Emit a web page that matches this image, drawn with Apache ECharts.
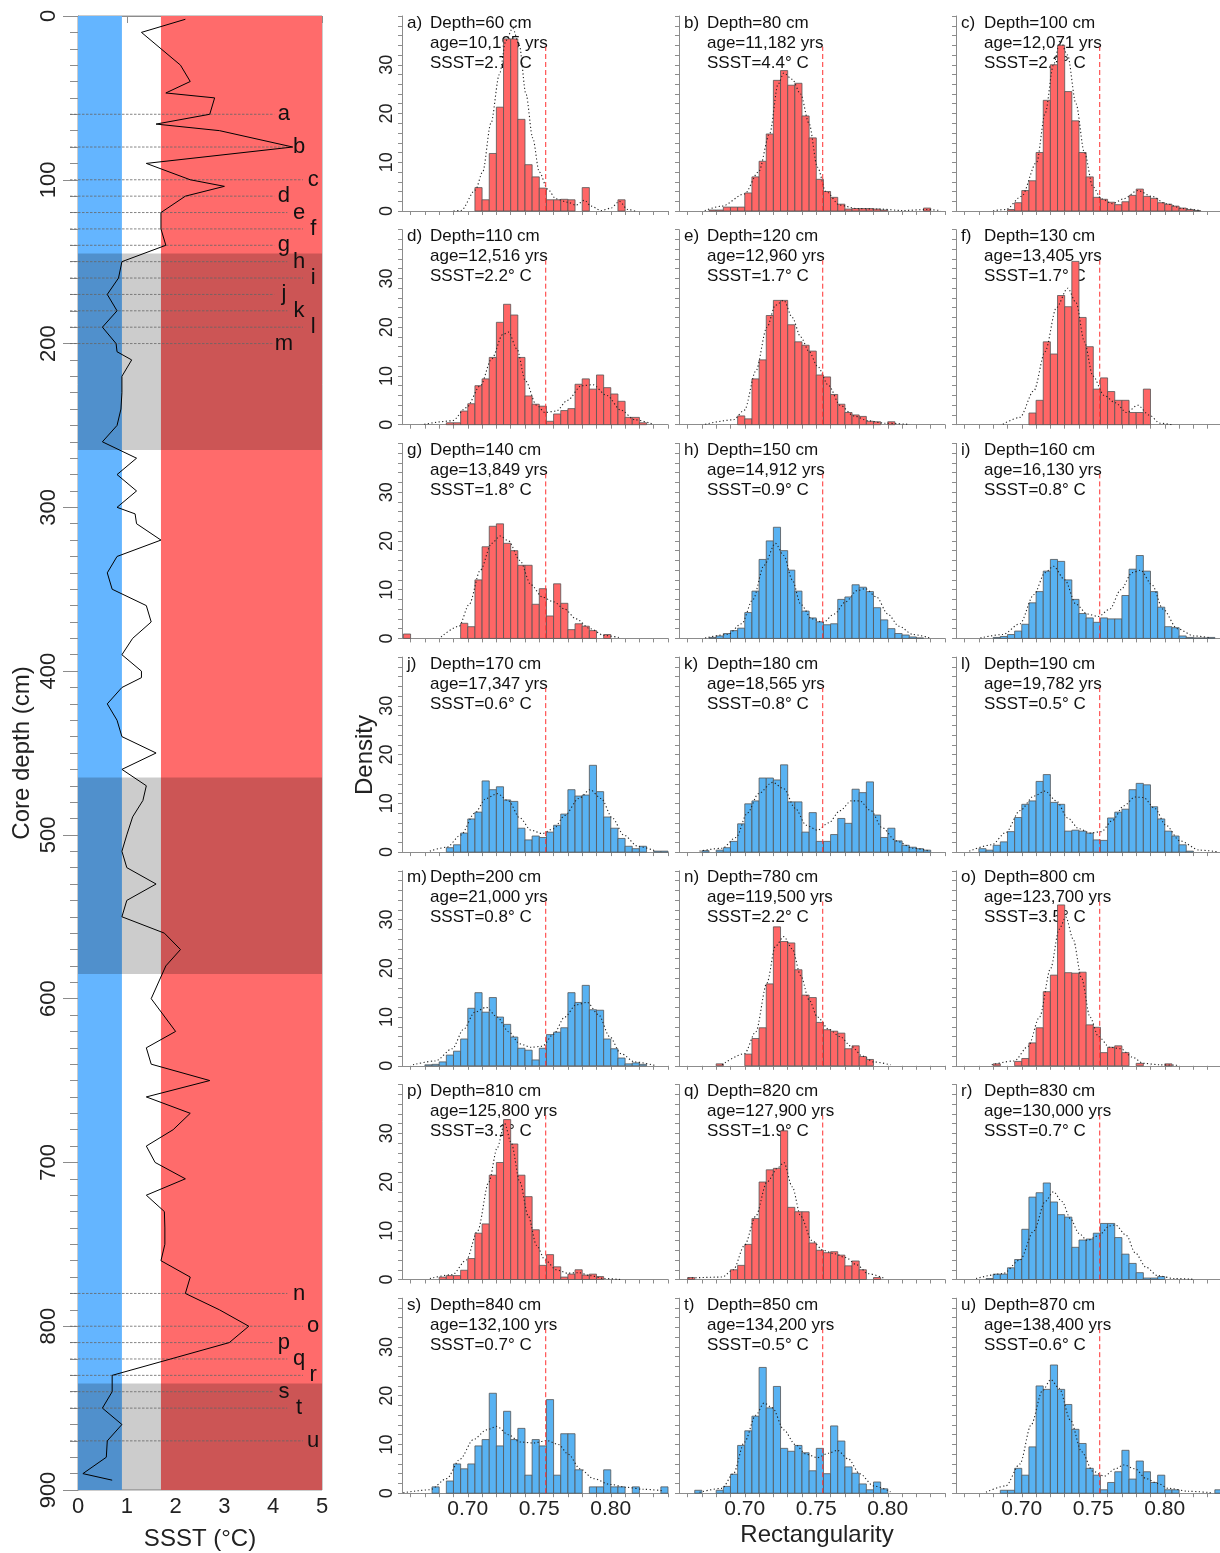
<!DOCTYPE html>
<html><head><meta charset="utf-8">
<script src="https://cdn.jsdelivr.net/npm/echarts@6/dist/echarts.min.js"></script>
<style>html,body{margin:0;padding:0;background:#fff}#c{width:1220px;height:1553px}</style>
</head><body><div id="c"></div>
<script>
// ================= DATA =================
// Left panel: SSST down-core
const coreDepth = [2,10,20,30,40,47,50,60,66,70,80,90,100,104,110,120,130,140,150,160,170,180,190,200,205,210,220,230,240,250,260,270,280,290,300,304,310,320,330,340,350,360,370,380,390,400,404,410,420,430,440,450,460,470,479,489,500,510,520,530,540,550,560,570,580,600,620,630,640,650,660,670,680,690,700,710,720,730,740,750,760,770,780,790,800,810,820,830,840,850,860,870,880,890,894];
const coreSSST  = [2.2,1.3,1.7,2.1,2.3,1.8,2.8,2.7,1.6,2.9,4.4,1.4,2.3,3.0,2.2,1.7,1.7,1.8,0.9,0.83,0.6,0.8,0.5,0.78,0.8,1.1,0.9,0.9,0.88,0.8,0.5,1.2,0.8,1.2,0.8,1.17,1.2,1.7,0.8,0.6,0.7,1.4,1.5,1.12,0.9,1.3,1.3,0.9,0.6,0.8,0.9,1.6,0.9,1.4,1.33,1.12,1.0,0.9,1.0,1.6,1.0,0.9,1.77,2.1,1.8,1.5,2.0,1.4,1.5,2.7,1.4,2.3,1.95,1.4,1.58,2.2,1.4,1.77,1.78,1.78,1.7,2.3,2.2,2.9,3.5,3.1,1.9,0.7,0.7,0.5,0.9,0.6,0.58,0.1,0.7];
const coldLimit = 0.9, warmLimit = 1.7, ssstMax = 5;
const glacialIntervals = [[145,265],[465,585],[835,900]];
const sampleLetters = ['a','b','c','d','e','f','g','h','i','j','k','l','m','n','o','p','q','r','s','t','u'];
const sampleDepths = [60,80,100,110,120,130,140,150,160,170,180,190,200,780,800,810,820,830,840,850,870];
const sampleAges = ['10,195','11,182','12,071','12,516','12,960','13,405','13,849','14,912','16,130','17,347','18,565','19,782','21,000','119,500','123,700','125,800','127,900','130,000','132,100','134,200','138,400'];
const sampleSSST = [2.7,4.4,2.3,2.2,1.7,1.7,1.8,0.9,0.8,0.6,0.8,0.5,0.8,2.2,3.5,3.1,1.9,0.7,0.7,0.5,0.6];

// Histograms: bin width and first-bin left edge per panel
const binWidth = 0.005;
const binStart = [0.705,0.675,0.690,0.685,0.695,0.705,0.655,0.675,0.680,0.685,0.670,0.670,0.670,0.680,0.680,0.680,0.660,0.675,0.675,0.665,0.685];
const hist_a = [4.8,2.3,11.8,21.3,35.3,35.3,18.8,9.5,7.0,4.7,2.3,2.3,2.4,2.3,0,4.8,0,0,0,0,2.3];
const hist_b = [0.2,0.2,0.8,0.8,0.8,3.7,7.0,10.2,15.8,26.8,28.8,25.8,26.2,19.5,15.0,6.5,4.0,2.8,1.4,0.4,0.5,0.5,0.5,0.4,0.2,0,0,0,0,0,0.6];
const hist_c = [0.3,1.7,4.2,6.2,12,22.7,30,34,24.5,18.5,12,7,2.8,2.4,1.8,1.3,1.9,3.2,4.5,3,2.6,1.7,1.4,1.0,0.6,0.3,0.1];
const hist_d = [0.4,0.4,2.8,4.3,8.0,9.4,13.8,21.0,24.7,22.5,13.8,5.9,4.2,3.8,0.7,2.2,2.9,3.3,8.3,9.4,7.3,10.2,7.6,6.3,4.8,1.5,1.5,0.4];
const hist_e = [1.8,1.2,9.4,13.3,22.4,25.5,25.5,20.5,17,16.3,15.1,10.2,9.8,6.2,4.2,2.5,2.0,1.7,0.7,0.6,0,0.6];
const hist_f = [2.4,5,17,14.5,26.5,24.2,33.5,22,16,7.3,9.6,6.8,5,5,2.5,2.5,7.3];
const hist_g = [0.9,0,0,0,0,0,0,0,3.1,2.4,12,18.8,23,23.5,19.5,18,15,15,7,10.2,4.6,11.2,7.2,1.8,3,2.5,1.6,0,0.8];
const hist_h = [0.2,0.5,1.0,1.6,2.1,5.3,9.7,16.2,20,22.8,18,14,9.7,5.6,4.2,3.4,2.8,3.0,8.0,8.5,11,10.5,9.6,6.3,3.8,2.0,1.0,0.7,0.3,0.1];
const hist_i = [0.2,0.4,0.8,1.5,2.9,7.3,9.6,13.8,16.2,15.8,12,8,5.1,4.2,3.3,4.2,4.0,4.0,8.8,14.2,17,13.8,9.6,6.4,2.4,2.2,0.5,0.2,0.1,0.1,0.2];
const hist_j = [0.9,1.5,3.9,6.8,8.2,14.6,12.8,13.4,10.7,10.4,4.9,2.5,3.3,3.0,4.1,5.5,7.8,12.8,11.5,11.7,17.8,12.4,7.2,4.9,2.8,1.2,0.7,1.2,0,0.2,0.2];
const hist_k = [0.3,0,0.4,0.9,2.2,5.8,9.9,10.5,15.2,15.2,14.8,17.9,10.3,10.3,4.1,8.1,2.2,2.2,3.6,6.9,5.9,12.9,12.2,14.4,7.6,3.0,4.9,2.3,1.4,1.0,0.7,0.4];
const hist_l = [0.7,0.4,1.4,2.1,4.2,7.1,9.8,10.5,14.5,15.9,10.2,9.8,4.3,4.5,4.3,3.9,2.5,2.4,7.0,8.2,8.8,12.8,14.1,13.8,9.3,6.8,4.3,3.3,1.5,0.2];
const hist_m = [0.2,0.3,0.8,2.2,3.0,5.5,11.8,15,11,14,10,8.5,5.9,3.6,3.2,1.2,3.6,6.4,6.9,7.8,15,13,16.5,11.5,11.4,5.5,3.5,1.6,0.4,0.6,0.3];
const hist_n = [0.4,0,0,0,2.4,5.6,7.8,16.8,28.5,25.5,25.2,19.7,14.5,14.0,8.9,7.4,7.1,6.7,3.5,4.1,1.9,1.3];
const hist_o = [0.4,0,0,0.9,1.5,4.7,7.8,15.2,18.6,33,19.1,19,19.2,8.4,7.9,2.7,3.8,4.1,2.7,0,0.5,0,0,0,0.4];
const hist_p = [0.5,0.8,0.8,1.9,4.3,9.5,11.4,21.4,24,32.8,27.8,21.4,17,10.2,2.9,5.1,2.6,0.5,1.1,2.0,0.9,1.1,0.6];
const hist_q = [0.4,0,0,0,0,0,2.0,2.9,7.2,12.5,20,22.5,22.8,30.5,14.8,13.9,13.9,7.5,6.0,5.5,5.7,5.0,2.8,3.8,2.0,0,0.4];
const hist_r = [0.2,1.1,1.1,2.4,4.1,10.3,16.9,17.8,19.8,15.9,13.3,12.8,6.6,8.1,8.3,9.5,11.5,11.5,8.6,5.2,3.3,1.4,0.3,0.3,0.6];
const hist_s = [1.3,0,2.5,6,5,6,9.7,11,20.5,9.7,16.8,11,13.3,3.7,11,9.7,19.2,3.7,12.2,12.2,4.8,0,1.3,1.3,4.8,1.3,1.3,0,1.3,0,0,0,1.3];
const hist_t = [0.6,0,0,0.6,1.4,3.9,9.8,12.8,15.8,25.8,17.5,21.9,9.2,8.6,9.8,8.3,4.6,9.2,4.0,13.8,10.7,5.4,4.1,1.9,0.7,2.3,0.9];
const hist_u = [0.6,0.6,5.1,3.7,9.5,22,21.3,26.3,21.3,18.2,13.1,10.2,5.1,3.7,0.7,2.2,4.4,8.8,2.9,6.6,4.4,2.2,3.7,0.7,0.7,0,0,0,0,0,0.7];

// Density curves: [rectangularity, density]
const kde_a = [[0.69,0],[0.6953,0.1],[0.7053,4.3],[0.7104,8],[0.7162,18],[0.7221,28],[0.7267,35],[0.7314,37.5],[0.736,34],[0.7407,24],[0.7454,15],[0.75,8],[0.7558,4.5],[0.7617,2.5],[0.7698,1.8],[0.7757,1.2],[0.7816,2.2],[0.7862,1.0],[0.7932,0.1],[0.8002,0.6],[0.806,2.0],[0.8118,0.3],[0.817,0]];
const kde_b = [[0.672,0.1],[0.684,1],[0.6998,3.5],[0.7096,8],[0.7175,16],[0.7233,26],[0.7273,28.3],[0.7332,27],[0.739,24],[0.7449,18],[0.7508,9],[0.7567,4],[0.7665,1.2],[0.7783,0.5],[0.794,0.4],[0.81,0.1],[0.8274,0.3],[0.837,0.1]];
const kde_c = [[0.68,0.05],[0.6888,0.3],[0.6998,3],[0.7104,10],[0.7163,20],[0.7222,30],[0.7269,35],[0.732,32],[0.7379,22],[0.7438,12],[0.7497,5],[0.7556,2.5],[0.7634,1.5],[0.7713,2.5],[0.7811,4.2],[0.791,3],[0.8008,1.5],[0.8126,0.5],[0.8244,0.1]];
const kde_d = [[0.6696,0.1],[0.6892,0.8],[0.699,3.5],[0.7088,8],[0.7167,13.5],[0.7245,18.5],[0.7285,19],[0.7344,15.5],[0.7403,9],[0.7481,4],[0.754,2.5],[0.7619,2.8],[0.7697,5],[0.7795,8],[0.7874,8.2],[0.7972,6],[0.807,3],[0.8168,1],[0.8286,0.2]];
const kde_e = [[0.6723,0.1],[0.692,1],[0.6998,3],[0.7077,11],[0.7155,20],[0.7214,24.5],[0.7273,25.5],[0.7332,22],[0.7391,18],[0.745,15],[0.7508,12],[0.7587,8],[0.7666,4],[0.7764,1.8],[0.7862,0.8],[0.798,0.3],[0.8137,0.1]];
const kde_f = [[0.6868,0.1],[0.6987,1.5],[0.7085,7],[0.7163,15],[0.7242,24],[0.7321,28],[0.738,25],[0.7438,17],[0.7497,10],[0.7576,6],[0.7654,4.5],[0.7733,2.5],[0.7811,4],[0.789,2],[0.7968,0.3],[0.8047,0]];
const kde_g = [[0.6813,0.3],[0.6939,2.5],[0.701,7],[0.7088,14],[0.7167,19.5],[0.7226,21],[0.7285,20],[0.7364,16],[0.7442,11],[0.7521,8.5],[0.76,7.5],[0.7678,6],[0.7757,4],[0.7855,2],[0.7953,0.6],[0.807,0.1]];
const kde_h = [[0.6723,0.1],[0.688,0.8],[0.6978,3],[0.7057,8],[0.7135,15],[0.7214,19.5],[0.7273,17],[0.7332,12],[0.7391,7],[0.7469,4],[0.7548,3.3],[0.7626,5],[0.7705,7.5],[0.7784,9.8],[0.7843,10.2],[0.7921,8.5],[0.8,5],[0.8078,2.5],[0.8176,0.8],[0.8294,0.1]];
const kde_i = [[0.6711,0.1],[0.6868,0.8],[0.6987,3],[0.7085,9],[0.7163,13.5],[0.7222,14.8],[0.7301,12],[0.7379,7],[0.7458,5],[0.7536,4.5],[0.7615,6],[0.7693,10],[0.7772,13.5],[0.7831,14],[0.791,11],[0.7988,6],[0.8087,2],[0.8205,0.5],[0.8322,0.1]];
const kde_j = [[0.6735,0.2],[0.6853,1],[0.6951,3.5],[0.7049,8],[0.7128,11],[0.7206,12],[0.7285,10.5],[0.7364,7],[0.7442,4.5],[0.7521,3.8],[0.76,4.8],[0.7678,7.5],[0.7776,11],[0.7855,12.8],[0.7933,11],[0.8011,7],[0.809,3.5],[0.8188,1.2],[0.8306,0.3]];
const kde_k = [[0.6684,0.2],[0.6841,0.8],[0.6939,3],[0.7018,8],[0.7096,12],[0.7194,14.3],[0.7273,13],[0.7352,9],[0.743,5.5],[0.7508,4.5],[0.7587,6],[0.7666,8.5],[0.7744,10.5],[0.7803,10.5],[0.7882,8.5],[0.796,5],[0.8058,2.3],[0.8176,0.8],[0.8294,0.2]];
const kde_l = [[0.6633,0.2],[0.679,1.5],[0.6888,4],[0.6987,8.5],[0.7085,11.5],[0.7163,12.5],[0.7242,10.5],[0.7321,7],[0.7399,4.8],[0.7478,3.9],[0.7556,4.2],[0.7634,6.5],[0.7713,9.5],[0.7792,11.3],[0.7851,11.2],[0.7929,9],[0.8008,5.5],[0.8106,2.3],[0.8244,0.4],[0.8362,0.1]];
const kde_m = [[0.6617,0.2],[0.6774,1],[0.6892,3.5],[0.6971,7.5],[0.7049,11],[0.7128,12],[0.7206,10],[0.7285,7],[0.7364,4.5],[0.7442,3.8],[0.7521,4],[0.76,6.5],[0.7678,10],[0.7757,12.5],[0.7835,13],[0.7914,10.5],[0.7992,6],[0.807,2.5],[0.8168,0.8],[0.8306,0.1]];
const kde_n = [[0.6841,0.2],[0.6998,2.5],[0.7077,7],[0.7155,17],[0.7214,24.5],[0.7273,26.5],[0.7332,24],[0.7391,18.5],[0.745,13.5],[0.7508,10],[0.7587,7.5],[0.7666,6],[0.7744,4],[0.7823,2],[0.7901,0.8],[0.8019,0.2]];
const kde_o = [[0.679,0.2],[0.6947,1],[0.7045,4],[0.7124,10],[0.7202,20],[0.7261,28],[0.7308,30.5],[0.7359,26],[0.7418,18],[0.7477,10],[0.7536,6],[0.7615,3.8],[0.7693,3.5],[0.7772,1.8],[0.7851,0.5],[0.7968,0.2],[0.8087,0.1]];
const kde_p = [[0.6735,0.2],[0.6892,1],[0.699,4],[0.7069,10],[0.7147,20],[0.7206,27],[0.7257,32],[0.7304,28],[0.7364,20],[0.7423,13],[0.7481,7],[0.754,4],[0.7619,2],[0.7697,1.3],[0.7776,1.4],[0.7855,0.8],[0.7953,0.2],[0.807,0]];
const kde_q = [[0.6605,0.3],[0.6841,0.5],[0.692,2],[0.6998,7],[0.7077,13],[0.7155,20],[0.7234,23],[0.7273,24],[0.7332,19],[0.7391,13],[0.7469,8],[0.7548,6],[0.7626,5.3],[0.7705,4.5],[0.7784,3],[0.7862,1.2],[0.798,0.2]];
const kde_r = [[0.668,0.2],[0.6868,1.2],[0.6987,4],[0.7085,10],[0.7163,16],[0.7222,18],[0.7281,16],[0.734,12.5],[0.7399,9.5],[0.7458,8],[0.7536,9],[0.7615,11],[0.7654,11.2],[0.7733,9],[0.7792,5.5],[0.787,2.5],[0.7949,0.8],[0.8067,0.2],[0.82,0.05]];
const kde_s = [[0.6549,0.1],[0.6736,0.7],[0.6853,3],[0.6946,7],[0.7039,11],[0.7132,13],[0.7202,13.7],[0.7284,12],[0.7365,10.5],[0.7458,10.3],[0.7552,10.8],[0.7633,10],[0.7703,8],[0.7785,5],[0.7878,3],[0.7995,1.8],[0.8111,1.2],[0.8228,0.8],[0.8368,0.5]];
const kde_t = [[0.6684,0.2],[0.6841,1],[0.692,4],[0.6998,10.5],[0.7077,16],[0.7135,18.5],[0.7194,17.5],[0.7273,13],[0.7352,10],[0.743,8],[0.7508,7.3],[0.7587,8.2],[0.7646,8.8],[0.7725,7],[0.7803,4],[0.7901,1.5],[0.8019,0.3]];
const kde_u = [[0.675,0.2],[0.6888,1.5],[0.6987,6],[0.7065,14],[0.7144,21],[0.7203,23.3],[0.7262,21.5],[0.734,15],[0.7419,8.5],[0.7497,4.5],[0.7576,3.5],[0.7654,5],[0.7713,5.8],[0.7792,5],[0.787,3],[0.7949,2],[0.8027,1],[0.8165,0.4],[0.8322,0.1]];

const rectThreshold = 0.7545;
const thresholdTop = 33.7;
const rectMin = 0.654, rectMax = 0.84;
const rectTicks = [0.66,0.67,0.68,0.69,0.70,0.71,0.72,0.73,0.74,0.75,0.76,0.77,0.78,0.79,0.80,0.81,0.82,0.83,0.84];
const rectLabels = [0.70,0.75,0.80];
const densityTicks = [0,10,20,30];
const densityMax = 40;

// ================= BUILD =================
const hists = [hist_a,hist_b,hist_c,hist_d,hist_e,hist_f,hist_g,hist_h,hist_i,hist_j,hist_k,hist_l,hist_m,hist_n,hist_o,hist_p,hist_q,hist_r,hist_s,hist_t,hist_u];
const kdes = [kde_a,kde_b,kde_c,kde_d,kde_e,kde_f,kde_g,kde_h,kde_i,kde_j,kde_k,kde_l,kde_m,kde_n,kde_o,kde_p,kde_q,kde_r,kde_s,kde_t,kde_u];

const FONT = '"Liberation Sans", Arial, sans-serif';
const RED = '#FF6B6B', BLUE = '#64B5FF';
const BAR_RED = '#FF6666', BAR_BLUE = '#58B2F2';
const AXIS_GRAY = '#8c8c8c';

const grids = [], xAxes = [], yAxes = [], series = [], graphics = [];

// ---- Left panel
grids.push({left:78, top:16, width:244, height:1474, outerBoundsMode:'none', containLabel:false,
  show:true, borderColor:'#999', borderWidth:1, backgroundColor:'transparent'});
xAxes.push({gridIndex:0, type:'value', min:0, max:ssstMax, interval:1,
  name:'SSST (°C)', nameLocation:'middle', nameGap:37, nameTextStyle:{fontSize:24, fontFamily:FONT, color:'#222'},
  axisLine:{show:true, lineStyle:{color:AXIS_GRAY}}, axisTick:{show:true, length:7, lineStyle:{color:AXIS_GRAY}},
  axisLabel:{fontSize:22, fontFamily:FONT, color:'#222', margin:6}, splitLine:{show:false}});
yAxes.push({gridIndex:0, type:'value', inverse:true, min:0, max:900, interval:100,
  name:'Core depth (cm)', nameLocation:'middle', nameGap:44, nameRotate:90, nameTextStyle:{fontSize:24, fontFamily:FONT, color:'#222'},
  axisLine:{show:true, lineStyle:{color:AXIS_GRAY}}, axisTick:{show:true, length:15, lineStyle:{color:AXIS_GRAY}},
  minorTick:{show:true, splitNumber:10, length:8, lineStyle:{color:AXIS_GRAY}},
  axisLabel:{fontSize:22, fontFamily:FONT, color:'#222', rotate:90, margin:18}, splitLine:{show:false}});

// colour bands
series.push({type:'line', xAxisIndex:0, yAxisIndex:0, data:[], z:1, silent:true,
  markArea:{silent:true, data:[
    [{xAxis:0, itemStyle:{color:BLUE}}, {xAxis:coldLimit}],
    [{xAxis:warmLimit, itemStyle:{color:RED}}, {xAxis:ssstMax}]
  ]}});
series.push({type:'line', xAxisIndex:0, yAxisIndex:0, data:[], z:2, silent:true,
  markArea:{silent:true, itemStyle:{color:'rgba(0,0,0,0.2)'},
    data: glacialIntervals.map(g => [{yAxis:g[0]}, {yAxis:g[1]}])}});
// dashed sample lines + letters
const lineEnds = [4.02, 4.29, 4.61], letterX = [4.22, 4.53, 4.82];
series.push({type:'custom', xAxisIndex:0, yAxisIndex:0, z:3, silent:true, clip:false,
  data: sampleDepths.map((d,i) => [0, d, i]),
  renderItem:(params, api) => {
    const d = api.value(1), i = api.value(2), g = i % 3;
    const p0 = api.coord([0, d]), p1 = api.coord([lineEnds[g], d]), pl = api.coord([letterX[g], d]);
    return {type:'group', children:[
      {type:'line', shape:{x1:p0[0]-8, y1:p0[1], x2:p1[0], y2:p1[1]}, style:{stroke:'#666', lineWidth:0.8, lineDash:[2.5,1.5]}},
      {type:'text', x:pl[0], y:pl[1], style:{text:sampleLetters[i], fontSize:22, fontFamily:FONT, fill:'#111', align:'center', verticalAlign:'middle'}}
    ]};
  }});
series.push({type:'line', xAxisIndex:0, yAxisIndex:0, z:4, silent:true, symbol:'none',
  lineStyle:{color:'#000', width:1}, data: coreDepth.map((d,i) => [coreSSST[i], d])});

// ---- Histogram panels
const colLeft = [402, 679, 956], panelW = 266, panelH = 195, rowStep = 213.7, topStart = 16;
for (let p = 0; p < 21; p++) {
  const r = Math.floor(p / 3), c = p % 3, gi = p + 1;
  const left = colLeft[c], top = topStart + r * rowStep;
  grids.push({left, top, width:panelW, height:panelH, outerBoundsMode:'none', containLabel:false});
  xAxes.push({gridIndex:gi, type:'value', min:rectMin, max:rectMax,
    axisLine:{show:true, lineStyle:{color:AXIS_GRAY}},
    axisTick:{show:true, customValues:rectTicks, length:4, lineStyle:{color:AXIS_GRAY}},
    axisLabel:{show: r === 6, customValues:rectLabels, formatter:v => v.toFixed(2), fontSize:21, fontFamily:FONT, color:'#222', margin:6},
    splitLine:{show:false}});
  yAxes.push({gridIndex:gi, type:'value', min:0, max:densityMax, interval:2,
    axisLine:{show:true, lineStyle:{color:AXIS_GRAY}},
    axisTick:{show:true, length:4, lineStyle:{color:AXIS_GRAY}},
    axisLabel:{show: c === 0, customValues:densityTicks, rotate:90, fontSize:18, fontFamily:FONT, color:'#222', margin:6},
    splitLine:{show:false}});
  const warm = sampleSSST[p] > 1;
  const fill = warm ? BAR_RED : BAR_BLUE;
  const bars = [];
  hists[p].forEach((h, k) => { if (h > 0) { const x0 = binStart[p] + k * binWidth; bars.push([x0, x0 + binWidth, h]); } });
  series.push({type:'custom', xAxisIndex:gi, yAxisIndex:gi, z:2, silent:true, data:bars,
    encode:{x:[0,1], y:2},
    renderItem:(params, api) => {
      const a = api.coord([api.value(0), api.value(2)]), b = api.coord([api.value(1), 0]);
      return {type:'rect', shape:{x:a[0], y:a[1], width:b[0]-a[0], height:b[1]-a[1]},
        style:{fill, stroke:'#555', lineWidth:0.8}};
    }});
  series.push({type:'line', xAxisIndex:gi, yAxisIndex:gi, z:3, silent:true, symbol:'none', smooth:0.3, smoothMonotone:'x',
    lineStyle:{color:'#222', width:1.1, type:[1.2,2.4]}, data:kdes[p]});
  series.push({type:'line', xAxisIndex:gi, yAxisIndex:gi, z:4, silent:true, symbol:'none',
    lineStyle:{color:'#FF3030', width:1, type:[5,3]}, itemStyle:{color:'#FF3030'},
    data:[[rectThreshold, 0], [rectThreshold, thresholdTop]]});
  const ty = top + 7;
  graphics.push({type:'text', x:left+5, y:ty, style:{text:sampleLetters[p]+')', fontSize:17, fontFamily:FONT, fill:'#111', verticalAlign:'middle'}});
  graphics.push({type:'text', x:left+28, y:ty, style:{text:'Depth='+sampleDepths[p]+' cm', fontSize:17, fontFamily:FONT, fill:'#111', verticalAlign:'middle'}});
  graphics.push({type:'text', x:left+28, y:ty+20, style:{text:'age='+sampleAges[p]+' yrs', fontSize:17, fontFamily:FONT, fill:'#111', verticalAlign:'middle'}});
  graphics.push({type:'text', x:left+28, y:ty+40, style:{text:'SSST='+sampleSSST[p].toFixed(1)+'° C', fontSize:17, fontFamily:FONT, fill:'#111', verticalAlign:'middle'}});
}
graphics.push({type:'text', x:365, y:755, rotation:Math.PI/2, style:{text:'Density', fontSize:24, fontFamily:FONT, fill:'#222', align:'center', verticalAlign:'middle'}});
graphics.push({type:'text', x:817, y:1535, style:{text:'Rectangularity', fontSize:24, fontFamily:FONT, fill:'#222', align:'center', verticalAlign:'middle'}});

const chart = echarts.init(document.getElementById('c'), null, {renderer:'canvas'});
chart.setOption({animation:false, backgroundColor:'#fff', textStyle:{fontFamily:FONT},
  grid:grids, xAxis:xAxes, yAxis:yAxes, series, graphic:graphics});
</script>
</body></html>
